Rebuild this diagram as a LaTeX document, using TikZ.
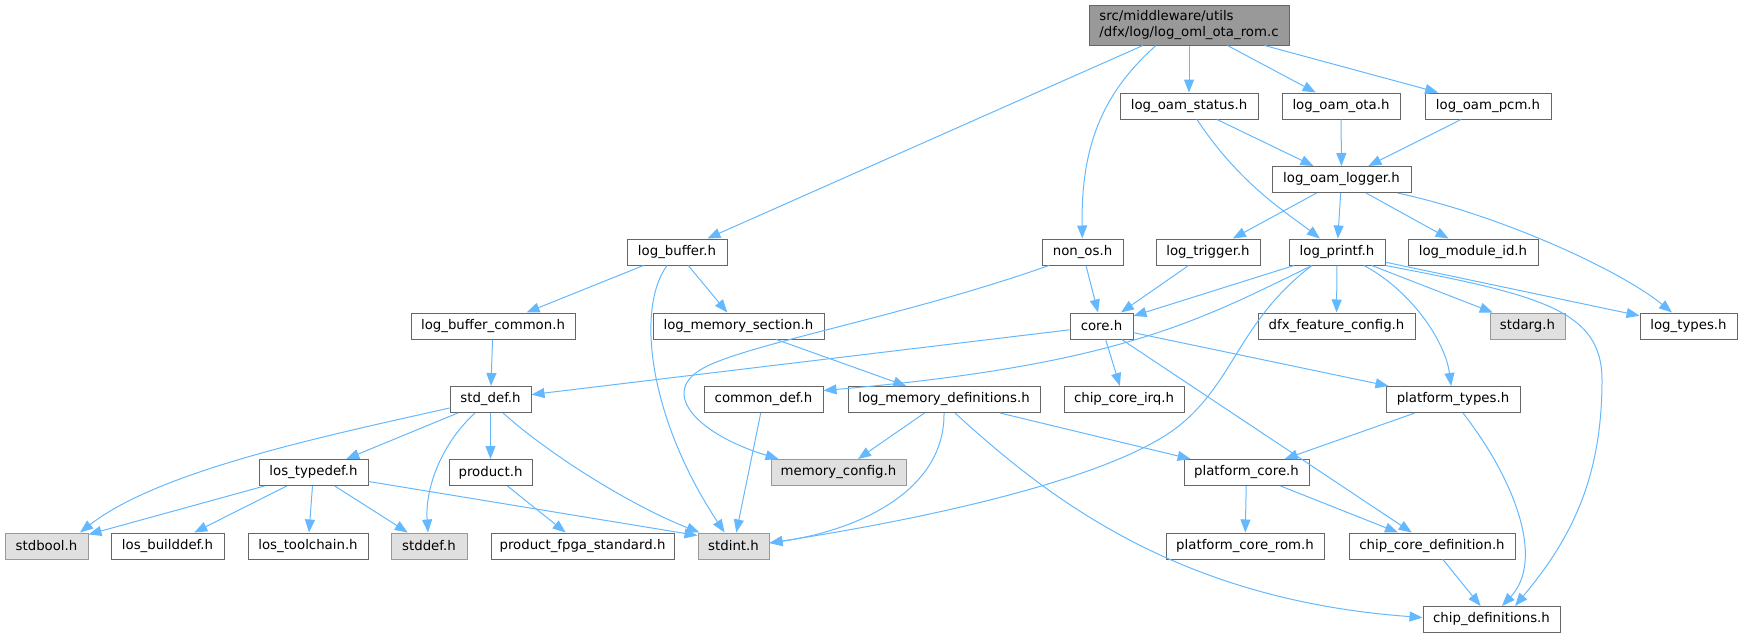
\documentclass[tikz,border=0pt]{standalone}
\usepackage{fontspec}
\setmainfont{DejaVu Sans}
\usetikzlibrary{arrows.meta}
\definecolor{edgeblue}{HTML}{63B8FF}
\definecolor{bordergray}{HTML}{666666}
\definecolor{rootfill}{HTML}{999999}
\definecolor{sysfill}{HTML}{E0E0E0}
\definecolor{sysborder}{HTML}{999999}
\begin{document}
\begin{tikzpicture}[x=1pt,y=-1pt,
  box/.style={draw=bordergray, fill=white, line width=1pt, rectangle, inner sep=0pt,
    minimum height=26pt, font=\fontsize{13.3}{15.5}\selectfont},
  sysbox/.style={box, fill=sysfill, draw=sysborder},
  rootbox/.style={box, fill=rootfill, minimum height=40pt, align=left},
  conn/.style={draw=edgeblue, line width=1pt, -{Triangle[length=13pt,width=10pt]}}]
\useasboundingbox (0,0) rectangle (1743,637);

% row 0
\node[rootbox, minimum width=200pt] (root) at (1189,25) {src/middleware/utils\\/dfx/log/log\_oml\_ota\_rom.c};
% row 1
\node[box, minimum width=138pt] (status) at (1189,106) {log\_oam\_status.h};
\node[box, minimum width=118pt] (ota) at (1341,106) {log\_oam\_ota.h};
\node[box, minimum width=126pt] (pcm) at (1488,106) {log\_oam\_pcm.h};
% row 2
\node[box, minimum width=139pt] (logger) at (1341.5,179.5) {log\_oam\_logger.h};
% row 3
\node[box, minimum width=100pt] (logbuffer) at (677,252) {log\_buffer.h};
\node[box, minimum width=81pt] (nonos) at (1082.5,252) {non\_os.h};
\node[box, minimum width=104pt] (trigger) at (1208,252) {log\_trigger.h};
\node[box, minimum width=96pt] (printf) at (1337,252) {log\_printf.h};
\node[box, minimum width=130pt] (moduleid) at (1473,252) {log\_module\_id.h};
% row 4
\node[box, minimum width=164pt] (bufcommon) at (493,326) {log\_buffer\_common.h};
\node[box, minimum width=171pt] (memsection) at (738.5,326) {log\_memory\_section.h};
\node[box, minimum width=63pt] (core) at (1101.5,326) {core.h};
\node[box, minimum width=157pt] (dfx) at (1336.5,326) {dfx\_feature\_config.h};
\node[sysbox, minimum width=75pt] (stdarg) at (1527.5,326) {stdarg.h};
\node[box, minimum width=97pt] (logtypes) at (1688.5,326) {log\_types.h};
% row 5
\node[box, minimum width=81pt] (stddefh) at (490.5,399.5) {std\_def.h};
\node[box, minimum width=119pt] (commondef) at (763.5,399.5) {common\_def.h};
\node[box, minimum width=192pt] (memdef) at (944,399.5) {log\_memory\_definitions.h};
\node[box, minimum width=120pt] (coreirq) at (1124,399.5) {chip\_core\_irq.h};
\node[box, minimum width=134pt] (ptypes) at (1453,399.5) {platform\_types.h};
% row 6
\node[box, minimum width=109pt] (lostypedef) at (313.5,472.5) {los\_typedef.h};
\node[box, minimum width=83pt] (product) at (490.5,472.5) {product.h};
\node[sysbox, minimum width=135pt] (memconfig) at (838.5,472.5) {memory\_config.h};
\node[box, minimum width=125pt] (pcore) at (1246.5,472.5) {platform\_core.h};
% row 7
\node[sysbox, minimum width=83pt] (stdbool) at (46.5,546) {stdbool.h};
\node[box, minimum width=113pt] (builddef) at (167.5,546) {los\_builddef.h};
\node[box, minimum width=120pt] (toolchain) at (308,546) {los\_toolchain.h};
\node[sysbox, minimum width=76pt] (stddef) at (429,546) {stddef.h};
\node[box, minimum width=183pt] (fpga) at (582.5,546) {product\_fpga\_standard.h};
\node[sysbox, minimum width=71pt] (stdint) at (733.5,546) {stdint.h};
\node[box, minimum width=158pt] (pcorerom) at (1245,546) {platform\_core\_rom.h};
\node[box, minimum width=166pt] (chipcoredef) at (1432,546) {chip\_core\_definition.h};
% row 8
\node[box, minimum width=137pt] (chipdefs) at (1491.5,619.5) {chip\_definitions.h};

% straight connectors
\draw[conn] (root) -- (logbuffer);
\draw[conn] (root) -- (status);
\draw[conn] (root) -- (ota);
\draw[conn] (root) -- (pcm);
\draw[conn] (status) -- (logger);
\draw[conn] (ota) -- (logger);
\draw[conn] (pcm) -- (logger);
\draw[conn] (logger) -- (trigger);
\draw[conn] (logger) -- (printf);
\draw[conn] (logger) -- (moduleid);
\draw[conn] (logbuffer) -- (bufcommon);
\draw[conn] (logbuffer) -- (memsection);
\draw[conn] (nonos) -- (core);
\draw[conn] (trigger) -- (core);
\draw[conn] (printf) -- (core);
\draw[conn] (printf) -- (dfx);
\draw[conn] (printf) -- (stdarg);
\draw[conn] (printf) -- (logtypes);
\draw[conn] (bufcommon) -- (stddefh);
\draw[conn] (memsection) -- (memdef);
\draw[conn] (core) -- (stddefh);
\draw[conn] (core) -- (coreirq);
\draw[conn] (core) -- (ptypes);
\draw[conn] (core) -- (chipcoredef);
\draw[conn] (commondef) -- (stdint);
\draw[conn] (memdef) -- (memconfig);
\draw[conn] (memdef) -- (pcore);
\draw[conn] (ptypes) -- (pcore);
\draw[conn] (stddefh) -- (lostypedef);
\draw[conn] (stddefh) -- (product);
\draw[conn] (lostypedef) -- (stdbool);
\draw[conn] (lostypedef) -- (builddef);
\draw[conn] (lostypedef) -- (toolchain);
\draw[conn] (lostypedef) -- (stddef);
\draw[conn] (lostypedef) -- ([yshift=-3pt]stdint.north west);
\draw[conn] (product) -- (fpga);
\draw[conn] (pcore) -- (pcorerom);
\draw[conn] (pcore) -- (chipcoredef);
\draw[conn] (chipcoredef) -- (chipdefs);

% curved connectors
\draw[conn] ([xshift=-33pt]root.south) .. controls (1100,95) and (1081,150) .. (nonos);
\draw[conn] ([xshift=8pt]status.south) .. controls (1240,185) and (1290,215) .. (printf);
\draw[conn] ([xshift=56pt]logger.south) .. controls (1500,215) and (1620,270) .. (logtypes);
\draw[conn] ([xshift=-10pt]logbuffer.south) .. controls (635,310) and (650,420) .. (stdint);
\draw[conn] ([xshift=-33.5pt]nonos.south) .. controls (900,318) and (740,345) .. (700,370)
  .. controls (660,395) and (700,435) .. ([xshift=-60pt]memconfig.north);
\draw[conn] ([xshift=-25pt]printf.south) .. controls (1200,320) and (1120,365) .. ([yshift=9pt]commondef.east);
\draw[conn] ([xshift=-25pt]printf.south) .. controls (1240,320) and (1235,380) .. (1180,425)
  .. controls (1120,474) and (950,515) .. ([yshift=3pt]stdint.east);
\draw[conn] ([xshift=27pt]printf.south) .. controls (1410,290) and (1445,340) .. (ptypes);
\draw[conn] (printf.south east) .. controls (1540,295) and (1602,310) .. (1602,380)
  .. controls (1602,480) and (1570,540) .. ([xshift=23.5pt]chipdefs.north);
\draw[conn] ([xshift=10pt]ptypes.south) .. controls (1515,480) and (1545,560) .. ([xshift=10.5pt]chipdefs.north);
\draw[conn] (memdef.south) .. controls (945,490) and (860,530) .. ([yshift=3pt]stdint.east);
\draw[conn] ([xshift=11pt]memdef.south) .. controls (1050,500) and (1180,600) .. ([yshift=2pt]chipdefs.west);
\draw[conn] ([yshift=-8.5pt]stddefh.west) .. controls (330,435) and (160,470) .. ([xshift=33.5pt]stdbool.north);
\draw[conn] ([xshift=-15.5pt]stddefh.south) .. controls (440,445) and (425,490) .. (stddef);
\draw[conn] ([xshift=12.5pt]stddefh.south) .. controls (550,455) and (630,505) .. ([xshift=2pt]stdint.north west);
\end{tikzpicture}
\end{document}
